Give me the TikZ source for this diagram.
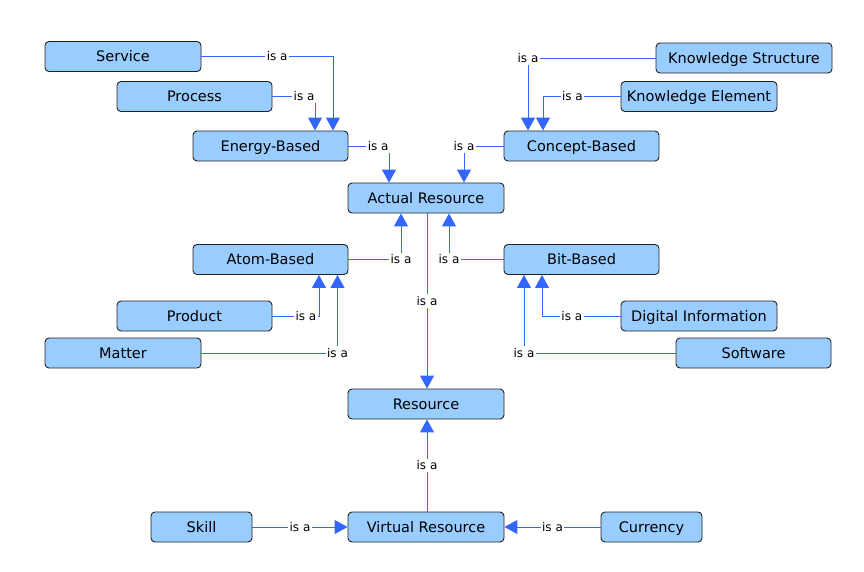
\documentclass[tikz,border=0pt]{standalone}
\usepackage{fontspec}
\setmainfont{DejaVu Sans}
\usetikzlibrary{arrows.meta}
\definecolor{boxfill}{HTML}{99CCFF}
\definecolor{edgeblue}{HTML}{3366FF}
\definecolor{boxline}{HTML}{222222}
\begin{document}
\begin{tikzpicture}[x=1pt,y=-1pt,
  cls/.style={draw=boxline, fill=boxfill, rounded corners=4pt, line width=0.9pt,
    minimum height=30pt, inner sep=0pt, text height=12pt, text depth=1.4pt,
    font=\fontsize{14.5}{16}\selectfont},
  isa/.style={draw=edgeblue, line width=1pt, -{Triangle[width=14pt,length=13pt]}},
  lbl/.style={fill=white, inner sep=1.5pt, text height=9.5pt, text depth=1pt,
    font=\fontsize{12}{14}\selectfont, text=black}
]
\useasboundingbox[fill=white] (0,0) rectangle (864,571);

% nodes
\node[cls, minimum width=156pt] (service)  at (123,56.5)   {Service};
\node[cls, minimum width=155pt] (process)  at (194.5,96.5) {Process};
\node[cls, minimum width=155pt] (energy)   at (270.5,146)  {Energy-Based};
\node[cls, minimum width=156pt] (actual)   at (426,198)    {Actual Resource};
\node[cls, minimum width=155pt] (concept)  at (581.5,146)  {Concept-Based};
\node[cls, minimum width=176pt] (ks)       at (744,58)     {Knowledge Structure};
\node[cls, minimum width=156pt] (ke)       at (699,96.5)   {Knowledge Element};
\node[cls, minimum width=155pt] (atom)     at (270.5,259.5){Atom-Based};
\node[cls, minimum width=155pt] (product)  at (194.5,316)  {Product};
\node[cls, minimum width=156pt] (matter)   at (123,353)    {Matter};
\node[cls, minimum width=155pt] (bit)      at (581.5,259.5){Bit-Based};
\node[cls, minimum width=156pt] (di)       at (699,316)    {Digital Information};
\node[cls, minimum width=155pt] (software) at (753.5,353)  {Software};
\node[cls, minimum width=156pt] (resource) at (426,404)    {Resource};
\node[cls, minimum width=156pt] (vr)       at (426,527)    {Virtual Resource};
\node[cls, minimum width=101pt] (skill)    at (201.5,527)  {Skill};
\node[cls, minimum width=101pt] (currency) at (651.5,527)  {Currency};

% connectors
\draw[isa] (service.east) -| node[lbl,pos=0.288]{is a} ([xshift=62.5pt]energy.north);
\draw[isa] (process.east) -| node[lbl,pos=0.372]{is a} ([xshift=44.5pt]energy.north);
\draw[isa] (energy.east)  -| node[lbl,pos=0.366]{is a} ([xshift=-37pt]actual.north);
\draw[isa] (ks.west)      -| node[lbl,pos=0.5]{is a}   ([xshift=-53.5pt]concept.north);
\draw[isa] (ke.west)      -| node[lbl,pos=0.31]{is a}  ([xshift=-38.5pt]concept.north);
\draw[isa] (concept.west) -| node[lbl,pos=0.5]{is a}   ([xshift=38pt]actual.north);
\draw[isa] (atom.east)    -| node[lbl,pos=0.5]{is a}   ([xshift=-25pt]actual.south);
\draw[isa] (bit.west)     -| node[lbl,pos=0.5]{is a}   ([xshift=23pt]actual.south);
\draw[isa] ([xshift=1pt]actual.south) -- node[lbl]{is a} ([xshift=1pt]resource.north);
\draw[isa] (product.east) -| node[lbl,pos=0.36]{is a}  ([xshift=48.5pt]atom.south);
\draw[isa] (matter.east)  -| node[lbl,pos=0.5]{is a}   ([xshift=67pt]atom.south);
\draw[isa] (di.west)      -| node[lbl,pos=0.31]{is a}  ([xshift=-39.5pt]bit.south);
\draw[isa] (software.west)-| node[lbl,pos=0.5]{is a}   ([xshift=-57.5pt]bit.south);
\draw[isa] ([xshift=1pt]vr.north) -- node[lbl]{is a} ([xshift=1pt]resource.south);
\draw[isa] (skill.east)    -- node[lbl]{is a} (vr.west);
\draw[isa] (currency.west) -- node[lbl]{is a} (vr.east);
\end{tikzpicture}
\end{document}
